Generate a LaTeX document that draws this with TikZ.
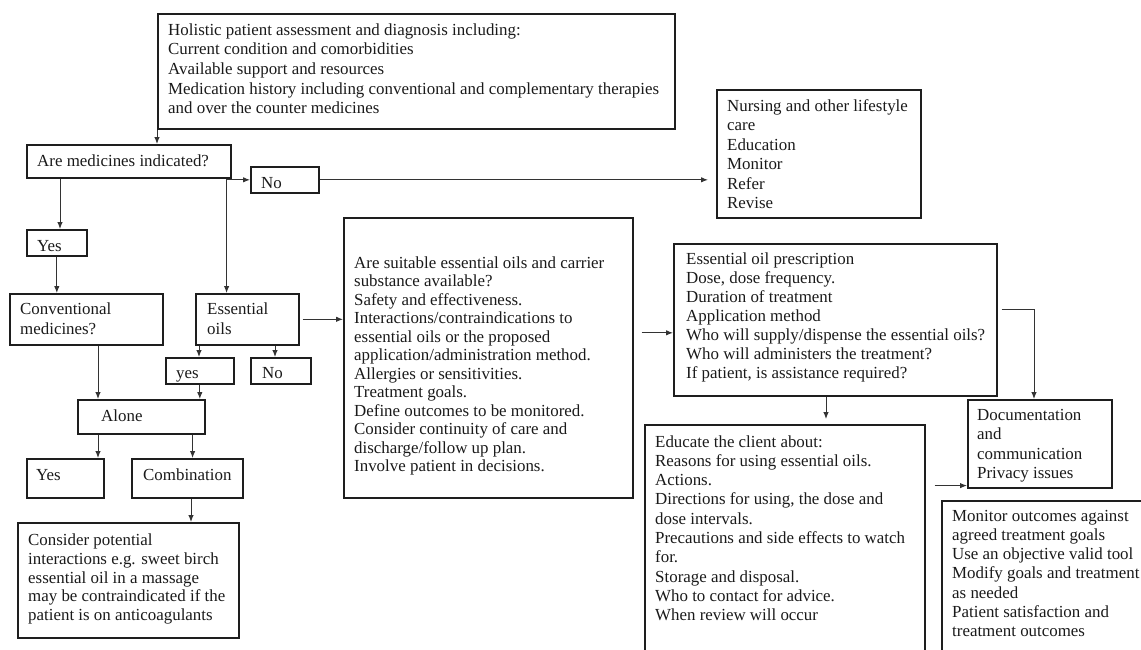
\documentclass[tikz,border=0pt]{standalone}
\usepackage{fontspec}
\setmainfont{Liberation Serif}
\usetikzlibrary{arrows.meta}
\definecolor{boxc}{HTML}{1E1E1E}
\definecolor{linec}{HTML}{333333}
\definecolor{txtc}{HTML}{1A1A1A}
\newcommand\fl{\rule{0pt}{12pt}}
\tikzset{
  bx/.style 2 args={draw=boxc, line width=1.6pt, anchor=north west, inner sep=0pt,
    minimum width=#1pt, minimum height=#2pt},
  tx/.style={anchor=north west, yshift=12pt, align=left, inner sep=0pt, text=txtc,
    font=\fontsize{16.9}{#1}\selectfont},
  tx/.default=19.5,
  ar/.style={draw=linec, line width=1pt, -{Latex[length=7pt,width=5.5pt]}},
}
\begin{document}
\begin{tikzpicture}[x=1pt,y=-1pt]
\useasboundingbox (0,0) rectangle (1141,649);
\clip (0,0) rectangle (1141,649);
% boxes
\node[bx={517}{115}] (hol) at (157,13) {};
\node[bx={204}{33}] (med) at (26,144) {};
\node[bx={68}{26}] (no1) at (250,166) {};
\node[bx={204}{128}] (nurs) at (716,89) {};
\node[bx={60}{26}] (yes1) at (26,229) {};
\node[bx={153}{51}] (conv) at (9,293) {};
\node[bx={103}{51}] (eo) at (195,293) {};
\node[bx={68}{26}] (yess) at (165,357) {};
\node[bx={60}{26}] (nos) at (250,357) {};
\node[bx={127}{34}] (alone) at (77,399) {};
\node[bx={77}{39}] (yes2) at (26,458) {};
\node[bx={111}{39}] (comb) at (131,458) {};
\node[bx={221}{115}] (cons) at (17,522) {};
\node[bx={289}{280}] (suit) at (343,217) {};
\node[bx={323}{152}] (presc) at (673,243) {};
\node[bx={144}{88}] (doc) at (967,399) {};
\node[bx={280}{240}] (edu) at (644,424) {};
\node[bx={220}{170}] (mon) at (941,500) {};
% texts
\node[tx=19.6] (hol-t) at (168,35) {\fl Holistic patient assessment and diagnosis including:\\Current condition and comorbidities\\Available support and resources\\Medication history including conventional and complementary therapies\\and over the counter medicines};
\node[tx] (med-t) at (37,166) {\fl Are medicines indicated?};
\node[tx] (no1-t) at (261,188) {\fl No};
\node[tx=19.5] (nurs-t) at (727,111) {\fl Nursing and other lifestyle\\care\\Education\\Monitor\\Refer\\Revise};
\node[tx] (yes1-t) at (37,251) {\fl Yes};
\node[tx=20] (conv-t) at (20,314) {\fl Conventional\\medicines?};
\node[tx=20] (eo-t) at (207,314) {\fl Essential\\oils};
\node[tx] (yess-t) at (176,378) {\fl yes};
\node[tx] (nos-t) at (262,378) {\fl No};
\node[tx] (alone-t) at (101,421) {\fl Alone};
\node[tx] (yes2-t) at (36,480) {\fl Yes};
\node[tx] (comb-t) at (143,480) {\fl Combination};
\node[tx=18.9] (cons-t) at (28,545) {\fl Consider potential\\interactions e.g. sweet birch\\essential oil in a massage\\may be contraindicated if the\\patient is on anticoagulants};
\node[tx=18.5] (suit-t) at (354,268) {\fl Are suitable essential oils and carrier\\substance available?\\Safety and effectiveness.\\Interactions/contraindications to\\essential oils or the proposed\\application/administration method.\\Allergies or sensitivities.\\Treatment goals.\\Define outcomes to be monitored.\\Consider continuity of care and\\discharge/follow up plan.\\Involve patient in decisions.};
\node[tx=19.1] (presc-t) at (686,264) {\fl Essential oil prescription\\Dose, dose frequency.\\Duration of treatment\\Application method\\Who will supply/dispense the essential oils?\\Who will administers the treatment?\\If patient, is assistance required?};
\node[tx=19.4] (doc-t) at (977,420) {\fl Documentation\\and\\communication\\Privacy issues};
\node[tx=19.26] (edu-t) at (655,447) {\fl Educate the client about:\\Reasons for using essential oils.\\Actions.\\Directions for using, the dose and\\dose intervals.\\Precautions and side effects to watch\\for.\\Storage and disposal.\\Who to contact for advice.\\When review will occur};
\node[tx=19.2] (mon-t) at (952,521) {\fl Monitor outcomes against\\agreed treatment goals\\Use an objective valid tool\\Modify goals and treatment\\as needed\\Patient satisfaction and\\treatment outcomes};
% connector coordinates
\coordinate (m1) at ([xshift=34pt]med.south west);
\coordinate (m2) at ([xshift=-5pt]med.south east);
\coordinate (al1) at ([xshift=21pt]alone.north west);
\coordinate (al2) at ([xshift=21pt]alone.south west);
\coordinate (al3) at ([xshift=-13pt]alone.south east);
\coordinate (eo1) at ([xshift=4pt]eo.south west);
\coordinate (eo2) at ([xshift=80pt]eo.south west);
\coordinate (cb1) at ([xshift=60pt]comb.south west);
\coordinate (eo3) at ([xshift=3pt]eo.east);
\coordinate (p1) at ([yshift=-13pt]presc.west);
\coordinate (pc) at ([xshift=153pt]presc.south west);
\coordinate (d1) at ([xshift=4pt,yshift=-66pt]presc.north east);
\coordinate (d2) at ([xshift=67pt]doc.north west);
\coordinate (e2) at ([yshift=3pt]doc.south west);
\path (edu.east |- e2) ++(9pt,0) coordinate (e1);
\path (suit.east |- p1) ++(8pt,0) coordinate (s1);
\path (nurs.west |- no1.east) ++(-8pt,0) coordinate (n1);
% connectors
\draw[ar] (hol.south west) -- (hol.south west |- med.north);
\draw[ar] (m1) -- (m1 |- yes1.north);
\draw[ar] (m2) -- (m2 |- eo.north);
\draw[ar] (m2 |- no1.west) -- (no1.west);
\draw[ar] (no1.east) -- (n1);
\draw[ar] (yes1.south) -- (yes1.south |- conv.north);
\draw[ar] (al1 |- conv.south) -- (al1);
\draw[ar] (eo1) -- (eo1 |- yess.north);
\draw[ar] (eo2) -- (eo2 |- nos.north);
\draw[ar] (yess.south) -- (yess.south |- alone.north);
\draw[ar] (al2) -- (al2 |- yes2.north);
\draw[ar] (al3) -- (al3 |- comb.north);
\draw[ar] (cb1) -- (cb1 |- cons.north);
\draw[ar] (eo3) -- (suit.west |- eo3);
\draw[ar] (s1) -- (p1);
\draw[ar, shorten >=5pt] (pc) -- (pc |- edu.north);
\draw[ar] (d1) -| (d2);
\draw[ar] (e1) -- (e2);
\end{tikzpicture}
\end{document}
